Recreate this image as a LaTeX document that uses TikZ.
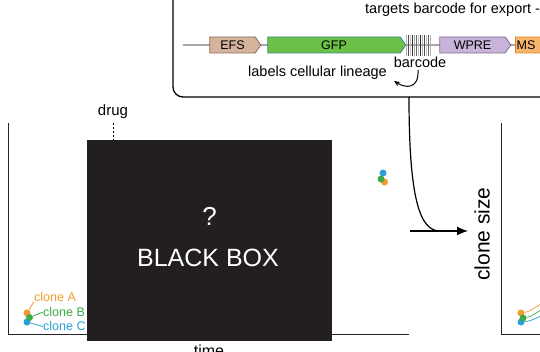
\documentclass[tikz,border=0pt]{standalone}
\usepackage{fontspec}
\setmainfont{Liberation Sans}
\usetikzlibrary{shapes.symbols,arrows.meta}
\definecolor{cA}{HTML}{F29A2E}
\definecolor{cB}{HTML}{3DAA4A}
\definecolor{cC}{HTML}{2A9FD8}
\definecolor{efsfill}{HTML}{D6B39C}
\definecolor{efsdraw}{HTML}{8A6A58}
\definecolor{gfpfill}{HTML}{6CBF47}
\definecolor{gfpdraw}{HTML}{3B8A78}
\definecolor{wprefill}{HTML}{C8B3DA}
\definecolor{wpredraw}{HTML}{7D6C8E}
\definecolor{msfill}{HTML}{F8B46A}
\definecolor{msdraw}{HTML}{E0892C}
\definecolor{boxblack}{HTML}{231F20}
\tikzset{
  gene/.style={signal, signal to=east, signal pointer angle=110, minimum height=16pt, inner sep=0pt, line width=0.8pt, font=\fontsize{12.5}{13}\selectfont},
  lbl/.style={inner sep=0pt, font=\fontsize{14.5}{16}\selectfont},
  clab/.style={inner sep=0pt, anchor=west, font=\fontsize{12.5}{13}\selectfont},
  dot/.style={circle, inner sep=0pt, minimum size=7pt},
  axis/.style={line width=1pt, black!85},
}
\begin{document}
\begin{tikzpicture}[x=1pt,y=-1pt]
\useasboundingbox (0,0) rectangle (540,352);
\fill[white] (0,0) rectangle (540,352);
% top box
\draw[line width=1.3pt, rounded corners=10pt] (600,-20) -- (173,-20) -- (173,97) -- (600,97);
\node[lbl, anchor=west] (tgt) at (365,10) {targets barcode for export -};
% gene line
\coordinate (gl) at (183,45);
\coordinate (gr) at (560,45);
\draw[line width=1.5pt, gray!70] (gl) -- (gr);
\node[gene, fill=efsfill, draw=efsdraw, minimum width=51pt] (efs) at (232.5,45) {EFS};
\node[gene, fill=gfpfill, draw=gfpdraw, minimum width=138pt] (gfp) at (334,45) {GFP};
\node[gene, fill=wprefill, draw=wpredraw, minimum width=71pt] (wpre) at (472.5,45) {WPRE};
\node[gene, fill=msfill, draw=msdraw, minimum width=50pt, anchor=west, align=left, text width=44pt] (ms) at (515,45) {\hspace*{1pt}MS};
% barcode
\foreach \x/\c in {406/gray!60, 408/black!70, 410/gray!50, 412/black!80, 414/gray!70, 416/black!60, 418/gray!50, 420/black!85, 422/gray!60, 424/black!70, 426/gray!45, 428/black!60, 430/gray!60}
  \draw[\c, line width=0.8pt] (\x,35) -- (\x,56);
\node[lbl] (bc) at (420,62) {barcode};
\node[lbl, anchor=west] (lin) at (248,73) {labels cellular lineage};
\draw[line width=1pt, -{Stealth[length=6pt,width=5pt]}] (418,70) .. controls (419,90) and (405,88) .. (394,81);
% left plot axes
\coordinate (ltop) at (8,123);
\coordinate (lorig) at (8,334);
\coordinate (lend) at (409,334);
\draw[axis] (ltop) -- (lorig) -- (lend);
% right plot axes
\coordinate (rtop) at (501,123);
\coordinate (rorig) at (501,334);
\coordinate (rend) at (545,334);
\draw[axis] (rtop) -- (rorig) -- (rend);
% connector
\coordinate (cstart) at (409,97);
\coordinate (cjoin) at (440,231);
\coordinate (hstart) at (410,231);
\coordinate (hend) at (468,231);
\draw[line width=1.2pt] (cstart) .. controls (409,200) and (420,231) .. (cjoin);
\draw[line width=1.2pt, -{Latex[length=11pt,width=9pt]}] (hstart) -- (hend);
% drug
\node[lbl, font=\fontsize{15}{16}\selectfont] (drug) at (113,112) {drug};
\coordinate (dtop) at (113,123);
\coordinate (dbot) at (113,141);
\draw[dash pattern=on 2pt off 2pt, line width=0.9pt] (dtop) -- (dbot);
% time label (cut off at the lower edge, as in the reference)
\node[lbl, anchor=north, font=\fontsize{16}{17}\selectfont] (time) at (209,345) {time};
% black box
\node[fill=boxblack, minimum width=245pt, minimum height=201pt, inner sep=0pt] (bb) at (209.5,240.5) {};
\node[text=white, inner sep=0pt, font=\fontsize{26}{28}\selectfont] (q) at (209.5,216) {?};
\node[text=white, inner sep=0pt, font=\fontsize{25}{28}\selectfont] (bbt) at (208,258) {BLACK BOX};
% clone labels left
\node[clab, text=cA] (la) at (34,297) {clone A};
\node[clab, text=cB] (lb) at (43,312) {clone B};
\node[clab, text=cC] (lc) at (43,326.5) {clone C};
\node[dot, fill=cA] (da) at (27,313) {};
\node[dot, fill=cC] (dc) at (27,322) {};
\node[dot, fill=cB] (db) at (29.5,317.5) {};
\draw[cA, line width=0.8pt] (da) -- (la.south west);
\draw[cB, line width=0.8pt] (db) -- (lb.west);
\draw[cC, line width=0.8pt] (dc) -- (lc.west);
% middle dots
\node[dot, fill=cC] (ma) at (383,173) {};
\node[dot, fill=cA] (mc) at (384.5,182) {};
\node[dot, fill=cB] (mb) at (381,179) {};
% clone size
\node[lbl, rotate=90, font=\fontsize{21}{23}\selectfont] (cs) at (482,234) {clone size};
% right plot dots and curves
\coordinate (ea) at (545,302);
\coordinate (eb) at (545,308);
\coordinate (ec) at (545,314);
\node[dot, fill=cA] (ra) at (521,313) {};
\node[dot, fill=cC] (rc) at (521,322) {};
\node[dot, fill=cB] (rb) at (523,318) {};
\draw[cA, line width=0.7pt] (ra) to[out=10, in=200] (ea);
\draw[cB, line width=0.7pt] (rb) to[out=10, in=200] (eb);
\draw[cC, line width=0.7pt] (rc) to[out=5, in=200] (ec);
\end{tikzpicture}
\end{document}
